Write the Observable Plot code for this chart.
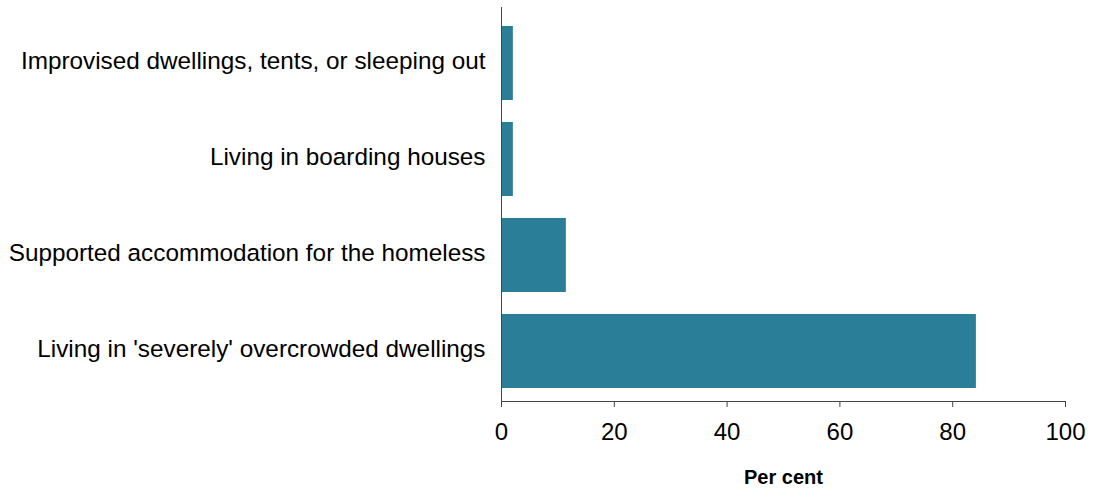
<!DOCTYPE html>
<html>
<head>
<meta charset="utf-8">
<script src="https://cdn.jsdelivr.net/npm/d3@7"></script>
<script src="https://cdn.jsdelivr.net/npm/@observablehq/plot@0.6"></script>
<style>
  html, body { margin: 0; padding: 0; background: #fff; }
  #chart svg { display: block; font-family: Arial, "Liberation Sans", sans-serif; }
</style>
</head>
<body>
<div id="chart"></div>
<script>
const categories = [
  "Improvised dwellings, tents, or sleeping out",
  "Living in boarding houses",
  "Supported accommodation for the homeless",
  "Living in 'severely' overcrowded dwellings"
];
const values = [2.1, 2.1, 11.5, 84.2];
const xTicks = [0, 20, 40, 60, 80, 100];
const xLabel = "Per cent";

const data = categories.map((c, i) => ({category: c, value: values[i]}));

const chart = Plot.plot({
  width: 1096,
  height: 491,
  marginLeft: 501,
  marginRight: 31,
  marginTop: 7,
  marginBottom: 90,
  style: {fontFamily: "Arial, 'Liberation Sans', sans-serif", color: "#000", background: "#fff"},
  x: {domain: [0, 100], ticks: xTicks},
  y: {domain: categories, paddingInner: 0.234, paddingOuter: 0.155, align: 0.57},
  marks: [
    Plot.barX(data, {x: "value", y: "category", fill: "#2a7e97"}),
    Plot.axisY({tickSize: 0, tickPadding: 16, fontSize: 24.3, dy: -2, label: null, fill: "#000"}),
    Plot.axisX({ticks: xTicks, tickSize: 6, tickPadding: 15, fontSize: 24, label: null, stroke: "#444", fill: "#000"}),
    Plot.frame({anchor: "bottom", stroke: "#444"}),
    Plot.ruleX([0], {stroke: "#444"}),
    Plot.text([xLabel], {frameAnchor: "bottom", dy: 76, fontWeight: "bold", fontSize: 20, fill: "#000", lineAnchor: "middle", textAnchor: "middle"})
  ]
});
document.getElementById("chart").appendChild(chart);
</script>
</body>
</html>
